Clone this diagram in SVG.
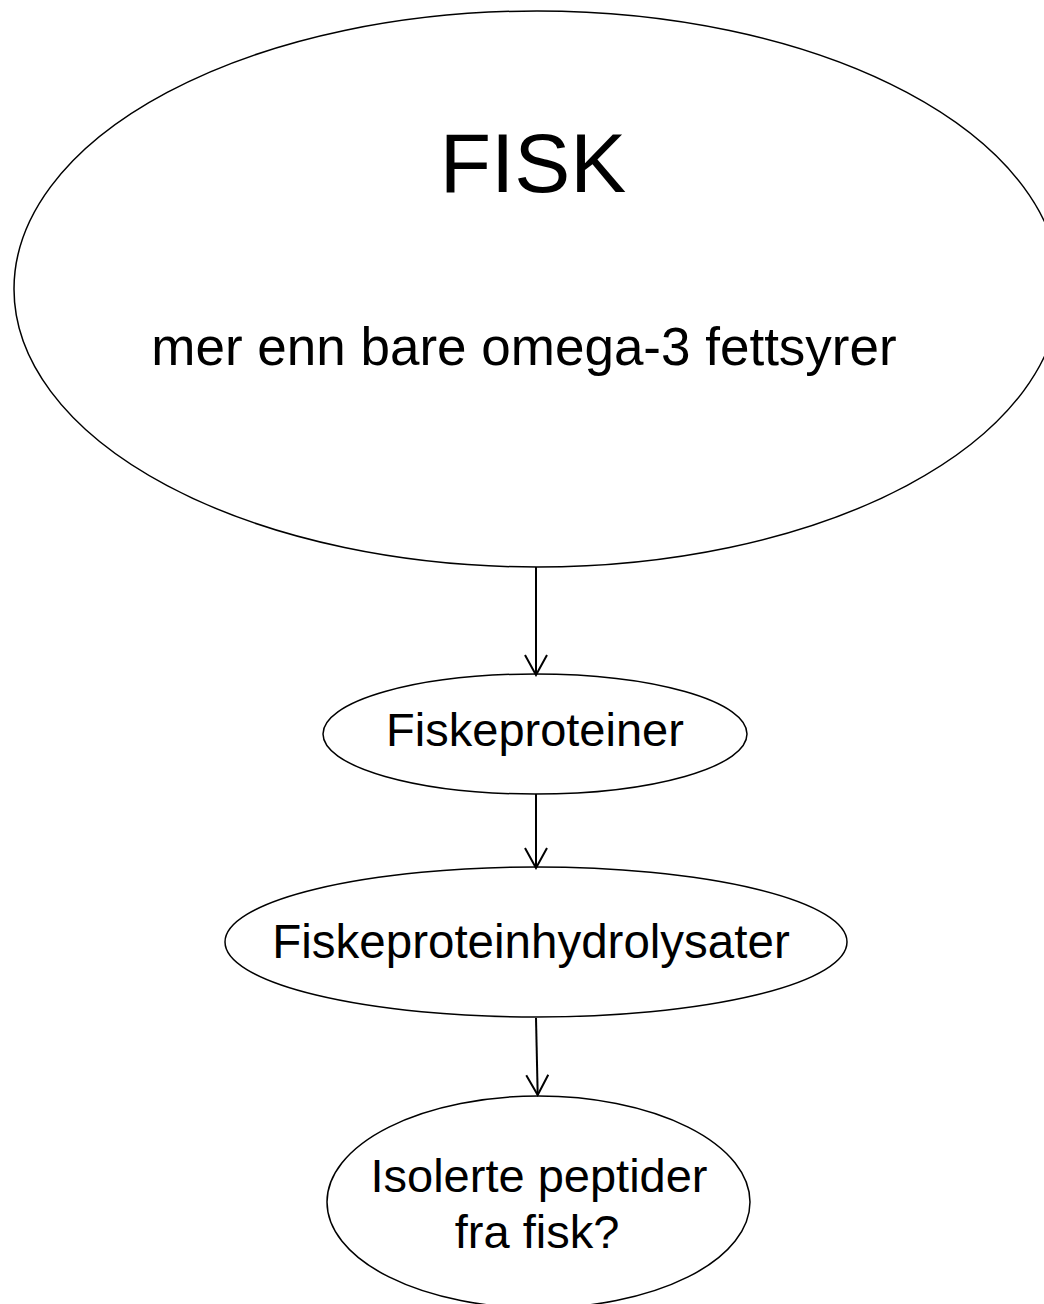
<svg xmlns="http://www.w3.org/2000/svg" width="1044" height="1304" viewBox="0 0 1044 1304">
<defs>
<style>
.node{fill:#fff;stroke:#000;stroke-width:1.5}
.lbl{font-family:"Liberation Sans",Arial,sans-serif;fill:#000;text-anchor:middle}
.conn{stroke:#000;stroke-width:2;fill:none}
</style>
<marker id="arr" viewBox="0 0 24 24" refX="22" refY="12" markerWidth="24" markerHeight="24" markerUnits="userSpaceOnUse" orient="auto">
<path d="M2 1 L22 12 L2 23" fill="none" stroke="#000" stroke-width="2"/>
</marker>
</defs>
<rect width="1044" height="1304" fill="#fff"/>
<g id="fisk">
<ellipse class="node" cx="537" cy="289" rx="523" ry="278"/>
<text class="lbl" x="533" y="192" font-size="84">FISK</text>
<text class="lbl" x="524" y="365" font-size="53">mer enn bare omega-3 fettsyrer</text>
</g>
<g id="fiskeproteiner">
<ellipse class="node" cx="535" cy="734" rx="212" ry="60"/>
<text class="lbl" x="535" y="746" font-size="47">Fiskeproteiner</text>
</g>
<g id="hydrolysater">
<ellipse class="node" cx="536" cy="942" rx="311" ry="75"/>
<text class="lbl" x="531" y="958" font-size="47.5">Fiskeproteinhydrolysater</text>
</g>
<g id="peptider">
<ellipse class="node" cx="538.5" cy="1202" rx="211.5" ry="106"/>
<text class="lbl" x="539" y="1192" font-size="47">Isolerte peptider</text>
<text class="lbl" x="537" y="1248" font-size="47">fra fisk?</text>
</g>
<g id="connectors">
<line class="conn" x1="536" y1="567" x2="536" y2="675" marker-end="url(#arr)"/>
<line class="conn" x1="536" y1="794" x2="536" y2="868" marker-end="url(#arr)"/>
<line class="conn" x1="536" y1="1018" x2="537.7" y2="1095" marker-end="url(#arr)"/>
</g>
</svg>
